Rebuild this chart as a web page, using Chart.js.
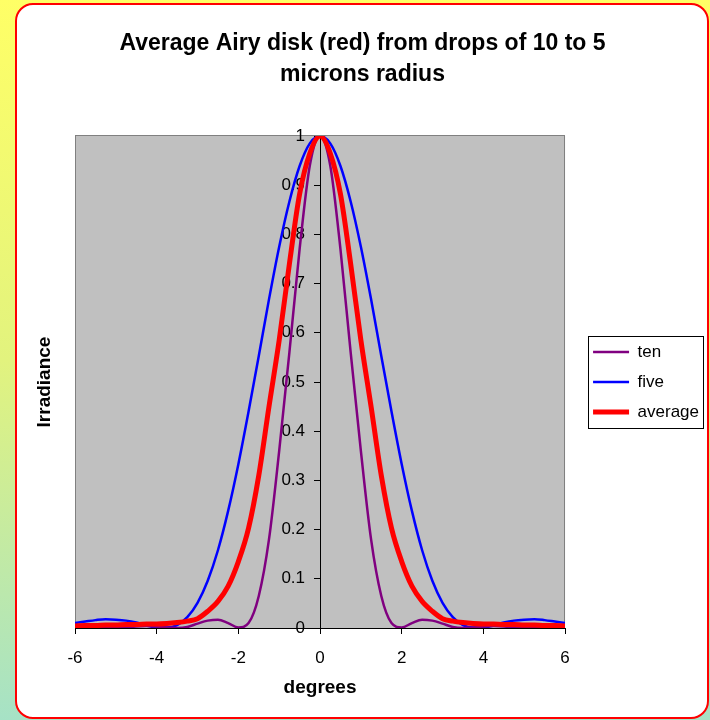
<!DOCTYPE html>
<html><head><meta charset="utf-8">
<script src="https://cdn.jsdelivr.net/npm/chart.js@4.4.1/dist/chart.umd.min.js"></script>
<style>
html,body{margin:0;padding:0;}
body{width:710px;height:720px;overflow:hidden;position:relative;background:linear-gradient(to bottom,#FFFF66 0%,#E2F37E 50%,#A6E2C6 100%);}
#box{position:absolute;left:15px;top:3px;width:690px;height:712px;background:#fff;border:2px solid #FF0000;border-radius:18px;}
#wrap{position:absolute;left:16px;top:0;width:693px;height:720px;}
</style></head><body>
<div id="box"></div>
<div id="wrap"><canvas id="c" width="693" height="720"></canvas></div>
<script>
const degrees = [-6,-5.75,-5.5,-5.25,-5,-4.75,-4.5,-4.25,-4,-3.75,-3.5,-3.25,-3,-2.75,-2.5,-2.25,-2,-1.75,-1.5,-1.25,-1,-0.75,-0.5,-0.25,0,0.25,0.5,0.75,1,1.25,1.5,1.75,2,2.25,2.5,2.75,3,3.25,3.5,3.75,4,4.25,4.5,4.75,5,5.25,5.5,5.75,6];
const ten = [0.001,0.001,0.001,0,0,0.001,0.003,0.004,0.003,0.001,0,0.002,0.009,0.015,0.017,0.01,0.001,0.01,0.065,0.18,0.36,0.56,0.77,0.94,1,0.94,0.77,0.56,0.36,0.18,0.065,0.01,0.001,0.01,0.017,0.015,0.009,0.002,0,0.001,0.003,0.004,0.003,0.001,0,0,0.001,0.001,0.001];
const five = [0.010,0.013,0.016,0.018,0.017,0.015,0.011,0.005,0.001,0.001,0.006,0.022,0.051,0.096,0.158,0.238,0.333,0.440,0.553,0.668,0.775,0.867,0.939,0.985,1,0.985,0.939,0.867,0.775,0.668,0.553,0.440,0.333,0.238,0.158,0.096,0.051,0.022,0.006,0.001,0.001,0.005,0.011,0.015,0.017,0.018,0.016,0.013,0.010];
const average = [0.004,0.005,0.005,0.006,0.006,0.007,0.007,0.008,0.008,0.009,0.011,0.014,0.019,0.034,0.054,0.085,0.135,0.203,0.31,0.45,0.585,0.74,0.882,0.965,1,0.965,0.882,0.74,0.585,0.45,0.31,0.203,0.135,0.085,0.054,0.034,0.019,0.014,0.011,0.009,0.008,0.008,0.007,0.007,0.006,0.006,0.005,0.005,0.004];
const seriesNames = ['ten','five','average'];
const titleLines = ['Average Airy disk (red) from drops of 10 to 5','microns radius'];

const pts = arr => degrees.map((d,i)=>({x:d,y:arr[i]}));

Chart.defaults.font.family = "'Liberation Sans', Arial, sans-serif";
Chart.defaults.color = '#000';

const Y_LABEL_GAP = 15;

const plotFrame = {
  id:'plotFrame',
  beforeDraw(chart){
    const {ctx, chartArea:a} = chart;
    // move the centred y-axis labels a little away from the axis line
    const ys = chart.scales.y;
    const items = ys.getLabelItems(a);
    if(items && !items._moved){
      items.forEach(it=>{ it.options.translation[0] -= Y_LABEL_GAP; });
      items._moved = true;
    }
    ctx.save();
    ctx.fillStyle = '#C0C0C0';
    ctx.fillRect(a.left, a.top, a.width, a.height);
    ctx.strokeStyle = '#808080'; ctx.lineWidth = 1;
    ctx.strokeRect(Math.round(a.left)+0.5, Math.round(a.top)-0.5, Math.round(a.width)-1, Math.round(a.height)+1);
    ctx.restore();
  },
  afterDraw(chart){
    const hb = chart.legend && chart.legend.legendHitBoxes;
    if(!hb || !hb.length) return;
    let l=Infinity,t=Infinity,r=-Infinity,b=-Infinity;
    hb.forEach(h=>{l=Math.min(l,h.left);t=Math.min(t,h.top);r=Math.max(r,h.left+h.width);b=Math.max(b,h.top+h.height);});
    const ctx = chart.ctx;
    ctx.save();
    ctx.strokeStyle='#000'; ctx.lineWidth=1;
    ctx.strokeRect(Math.round(l-5)+0.5, Math.round(t-8)+0.5, Math.round(r-l+9), Math.round(b-t+15));
    ctx.restore();
  }
};

new Chart(document.getElementById('c'), {
  type:'line',
  data:{
    datasets:[
      {label:seriesNames[0], data:pts(ten), borderColor:'#800080', backgroundColor:'#800080', borderWidth:2.5, pointRadius:0, cubicInterpolationMode:'monotone', order:1, xAxisID:'x', yAxisID:'y'},
      {label:seriesNames[1], data:pts(five), borderColor:'#0000FF', backgroundColor:'#0000FF', borderWidth:2.5, pointRadius:0, cubicInterpolationMode:'monotone', order:2, xAxisID:'x', yAxisID:'y'},
      {label:seriesNames[2], data:pts(average), borderColor:'#FF0000', backgroundColor:'#FF0000', borderWidth:5, pointRadius:0, cubicInterpolationMode:'monotone', order:0, xAxisID:'x', yAxisID:'y'}
    ]
  },
  options:{
    responsive:false, animation:false, devicePixelRatio:1,
    layout:{padding:{left:0,right:0,top:0,bottom:0}},
    plugins:{
      title:{display:true, text:titleLines, color:'#000', font:{size:23, weight:'bold', lineHeight:1.348}, padding:{top:28.5,bottom:45.5}},
      legend:{position:'right', fullSize:false, maxWidth:200,
        labels:{usePointStyle:true, pointStyle:'line', pointStyleWidth:36, padding:13, color:'#000', font:{size:17}, sort:(a,b)=>a.datasetIndex-b.datasetIndex}},
      tooltip:{enabled:false}
    },
    scales:{
      x:{type:'linear', position:'bottom', min:-6, max:6,
        ticks:{stepSize:2, font:{size:17}, color:'#000', padding:13.8, maxRotation:0},
        grid:{drawOnChartArea:false, tickLength:6, color:'#000'},
        border:{color:'#000'},
        title:{display:true, text:'degrees', color:'#000', font:{size:19, weight:'bold'}, padding:{top:0,bottom:20.6}},
        afterFit(s){ s.height = 92; }
      },
      y:{type:'linear', position:{x:0}, min:0, max:1,
        ticks:{stepSize:0.1, font:{size:17}, color:'#000', callback:v=>String(Math.round(v*10)/10)},
        grid:{drawOnChartArea:false, tickLength:6, color:'#000'},
        border:{color:'#000'}
      },
      yTitle:{type:'linear', axis:'y', position:'left', min:0, max:1,
        ticks:{display:false}, grid:{display:false, drawTicks:false}, border:{display:false},
        title:{display:true, text:'Irradiance', color:'#000', font:{size:19, weight:'bold'}, padding:{top:17.6,bottom:0}},
        afterFit(s){ s.width = 59; }
      },
      ySpacer:{type:'linear', axis:'y', position:'right', min:0, max:1,
        ticks:{display:false}, grid:{display:false, drawTicks:false}, border:{display:false},
        afterFit(s){ s.width = 15; }
      }
    }
  },
  plugins:[plotFrame]
});
</script>
</body></html>
